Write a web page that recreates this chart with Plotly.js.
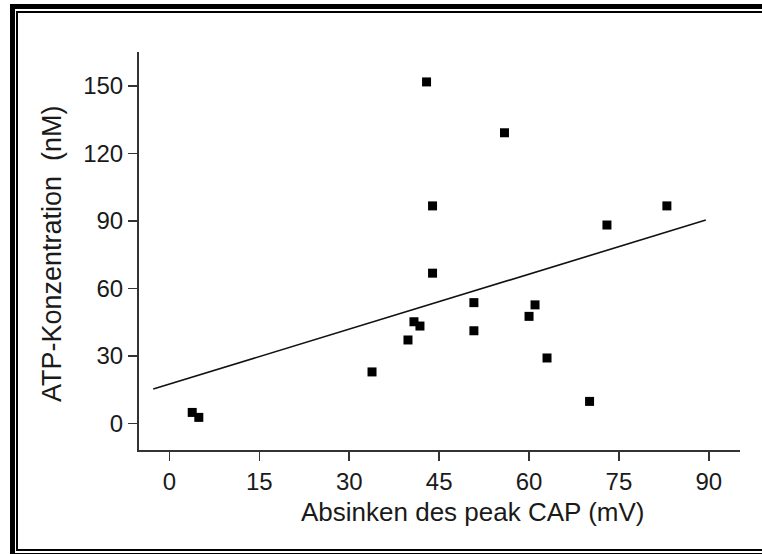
<!DOCTYPE html>
<html>
<head>
<meta charset="utf-8">
<script src="https://cdn.plot.ly/plotly-3.0.1.min.js"></script>
<style>
  html, body { margin: 0; padding: 0; background: #fff; }
  #wrap { position: relative; width: 762px; height: 554px; overflow: hidden; }
  #chart { position: absolute; left: 0; top: 0; width: 762px; height: 554px; }
  .frame { position: absolute; pointer-events: none; box-sizing: content-box; }
  #outer { left: 10px; top: 4px; width: 800px; height: 544px; border-left: 5px solid #000; border-top: 5px solid #000; border-bottom: 5px solid #000; }
  #inner { left: 16px; top: 11px; width: 800px; height: 536px; border-left: 2px solid #000; border-top: 2px solid #000; border-bottom: 2px solid #000; }
</style>
</head>
<body>
<div id="wrap">
  <div id="chart"></div>
  <div id="outer" class="frame"></div>
  <div id="inner" class="frame"></div>
</div>
<script>
// Data
var capDrop = [3.8, 4.9, 33.8, 39.8, 40.8, 41.8, 42.9, 43.9, 43.9, 50.8, 50.8, 55.9, 60.0, 61.0, 63.0, 70.1, 73.0, 83.0];
var atpConc = [4.9, 2.7, 22.9, 37.1, 45.2, 43.3, 151.8, 96.7, 66.8, 41.2, 53.7, 129.2, 47.6, 52.7, 29.1, 9.8, 88.2, 96.7];
var fitX = [-2.7, 89.5];
var fitY = [15.3, 90.4];
var xTicks = [0, 15, 30, 45, 60, 75, 90];
var yTicks = [0, 30, 60, 90, 120, 150];

var font = 'Liberation Sans, Arial, sans-serif';
var ink = '#1a1a1a';

var traces = [
  {
    x: fitX, y: fitY, type: 'scatter', mode: 'lines',
    line: { color: '#111', width: 1.6 }, hoverinfo: 'skip', showlegend: false
  },
  {
    x: capDrop, y: atpConc, type: 'scatter', mode: 'markers',
    marker: { symbol: 'square', size: 9, color: '#000' }, showlegend: false
  }
];

var layout = {
  width: 762, height: 554,
  margin: { l: 139, r: 22, t: 52, b: 104, pad: 0 },
  paper_bgcolor: '#fff', plot_bgcolor: '#fff',
  font: { family: font, color: ink, size: 24 },
  showlegend: false,
  xaxis: {
    range: [-5.08, 95.2], tickvals: xTicks, ticktext: xTicks.map(String),
    showgrid: false, zeroline: false, showline: true, linecolor: '#333', linewidth: 2,
    ticks: 'outside', ticklen: 9, tickwidth: 1.5, tickcolor: '#333',
    tickfont: { family: font, size: 24, color: ink }, fixedrange: true,
    title: { text: '' }
  },
  yaxis: {
    range: [-11.8, 165.1], tickvals: yTicks, ticktext: yTicks.map(String),
    showgrid: false, zeroline: false, showline: true, linecolor: '#333', linewidth: 2,
    ticks: 'outside', ticklen: 9, tickwidth: 1.5, tickcolor: '#333',
    tickfont: { family: font, size: 24, color: ink }, fixedrange: true,
    title: { text: '' }
  },
  annotations: [
    {
      text: 'Absinken des peak CAP (mV)', xref: 'paper', yref: 'paper',
      x: (473 - 139) / 601, y: -(512 - 450) / 398, xanchor: 'center', yanchor: 'middle',
      showarrow: false, font: { family: font, size: 26, color: ink }
    },
    {
      text: 'ATP-Konzentration\u00a0 (nM)', xref: 'paper', yref: 'paper',
      x: -(139 - 52) / 601, y: (450 - 254) / 398, xanchor: 'center', yanchor: 'middle',
      textangle: -90, showarrow: false, font: { family: font, size: 27, color: ink }
    }
  ]
};

Plotly.newPlot('chart', traces, layout, { displayModeBar: false, staticPlot: true });
</script>
</body>
</html>
